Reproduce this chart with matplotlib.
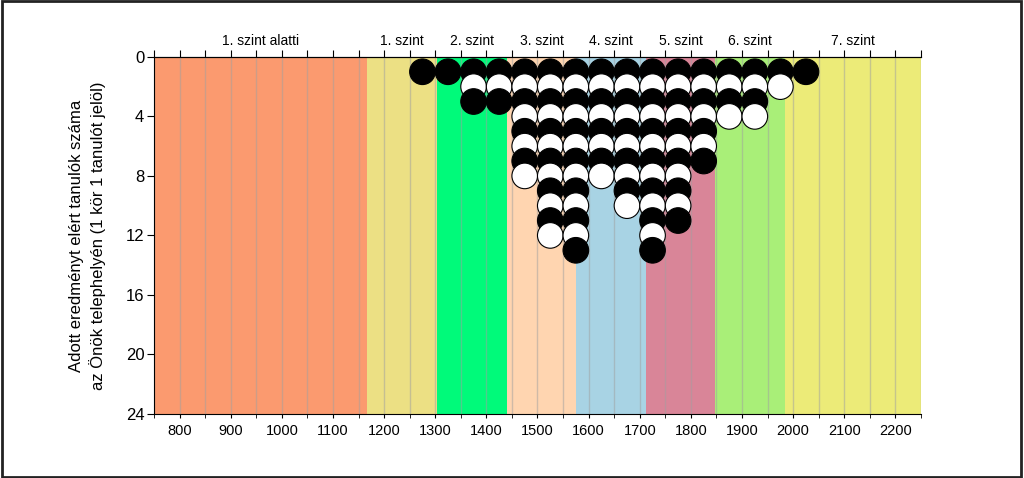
import matplotlib
matplotlib.use('Agg')
import matplotlib.pyplot as plt
from matplotlib.patches import Rectangle

plt.rcParams['font.family'] = ['Liberation Sans', 'DejaVu Sans']

# score bins (centre of 50-point bins) and number of students in each
bin_centers = [1275, 1325, 1375, 1425, 1475, 1525, 1575, 1625,
               1675, 1725, 1775, 1825, 1875, 1925, 1975, 2025]
counts = [1, 1, 3, 3, 8, 12, 13, 8, 10, 13, 11, 7, 4, 4, 2, 1]

# proficiency levels
level_edges = [750, 1166, 1303, 1440, 1576, 1712, 1848, 1984, 2250]
level_names = ["1. szint alatti", "1. szint", "2. szint", "3. szint",
               "4. szint", "5. szint", "6. szint", "7. szint"]
level_colors = ['#FB9A6F', '#ECE084', '#00FA7A', '#FFD5B0',
                '#A8D3E4', '#D98598', '#A9EF78', '#ECEB78']

x_ticks = list(range(800, 2201, 100))
y_ticks = [0, 4, 8, 12, 16, 20, 24]

fig = plt.figure(figsize=(10.24, 4.78), dpi=100)
ax = fig.add_axes([0.1504, 0.134, 0.749, 0.747])

# coloured level bands
for i, name in enumerate(level_names):
    ax.axvspan(level_edges[i], level_edges[i + 1], color=level_colors[i],
               lw=0, zorder=0)
    ax.text((level_edges[i] + level_edges[i + 1]) / 2, -0.6, name,
            ha='center', va='bottom', fontsize=10, clip_on=False)

# one circle per student, alternating black / white down the column
xs, ys, cols = [], [], []
for xc, n in zip(bin_centers, counts):
    for k in range(1, n + 1):
        xs.append(xc)
        ys.append(k)
        cols.append('black' if k % 2 == 1 else 'white')
ax.scatter(xs, ys, s=340, c=cols, edgecolors='black', linewidths=0.8,
           zorder=3, clip_on=False)

ax.set_xlim(750, 2250)
ax.set_ylim(24, 0)
ax.set_xticks(x_ticks)
ax.set_xticks(range(750, 2251, 50), minor=True)
ax.set_yticks(y_ticks)
ax.grid(which='both', axis='x', color='#A0A0A0', alpha=0.5, lw=1, zorder=1)
ax.set_axisbelow(True)
ax.tick_params(axis='x', which='both', length=3, labelsize=10.5, pad=4)
ax.tick_params(axis='y', length=5, labelsize=12, pad=2)

ax.spines['right'].set_visible(False)
ax.spines['top'].set_linewidth(0.8)

top = ax.secondary_xaxis('top')
top.set_xticks(range(750, 2251, 50))
top.set_xticklabels([])
top.tick_params(length=5, width=0.8)
top.spines['top'].set_linewidth(0.8)

ax.set_ylabel("Adott eredményt elért tanulók száma\n"
              "az Önök telephelyén (1 kör 1 tanulót jelöl)",
              fontsize=12, labelpad=14, linespacing=1.4)

fig.patches.append(Rectangle((0.002, 0.003), 0.995, 0.994,
                             transform=fig.transFigure, fill=False,
                             edgecolor='#222222', lw=2))

plt.savefig('out.png', dpi=100)
